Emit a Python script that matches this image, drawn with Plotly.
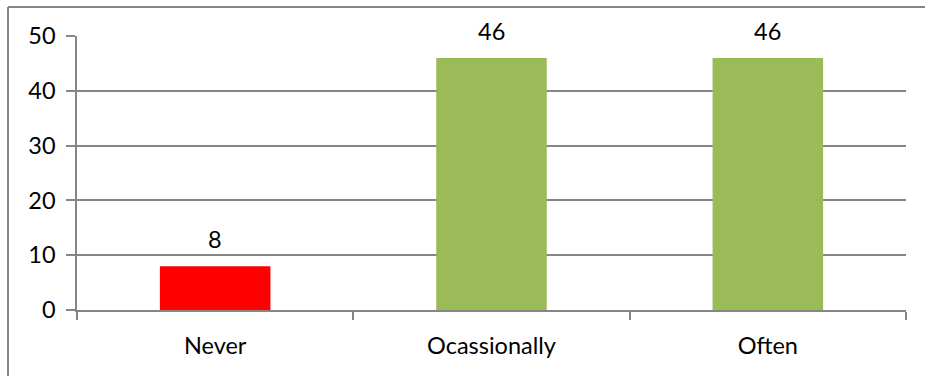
import plotly.graph_objects as go

categories = ["Never", "Ocassionally", "Often"]
counts = [8, 46, 46]
bar_colors = ["#FF0000", "#9BBB59", "#9BBB59"]
y_ticks = [0, 10, 20, 30, 40, 50]

FONT = "Lato"
FONT_SIZE = 23.5
GRID = "#868686"

fig = go.Figure()
fig.add_trace(go.Bar(
    x=categories, y=counts, marker=dict(color=bar_colors, line=dict(width=0)),
    width=0.4, showlegend=False, hoverinfo="skip",
))

# value labels above each bar
for c, v in zip(categories, counts):
    fig.add_annotation(x=c, y=v, text=str(v), showarrow=False,
                       yanchor="bottom", yshift=11,
                       font=dict(family=FONT, size=FONT_SIZE, color="black"))

# chart frame: top and left edges
frame = dict(type="line", xref="paper", yref="paper",
             line=dict(color=GRID, width=2), layer="below")
fig.add_shape(x0=-0.0832, x1=1.2, y0=1.1058, y1=1.1058, **frame)
fig.add_shape(x0=-0.0832, x1=-0.0832, y0=-0.35, y1=1.1058, **frame)

fig.update_layout(
    width=925, height=376,
    margin=dict(l=77, r=19, t=36, b=66),
    paper_bgcolor="white", plot_bgcolor="white",
    font=dict(family=FONT, size=FONT_SIZE, color="black"),
    bargap=0.6,
    xaxis=dict(
        type="category", tickson="boundaries", ticks="outside", ticklen=8,
        tickcolor=GRID, tickwidth=1.5, showline=True, linecolor=GRID, linewidth=1.5,
        showgrid=False, ticklabelstandoff=14, range=[-0.5, 2.5],
    ),
    yaxis=dict(
        range=[0, 50], tickvals=y_ticks, ticks="outside", ticklen=9,
        tickcolor=GRID, tickwidth=1.5, showline=True, linecolor=GRID, linewidth=1.5,
        showgrid=True, gridcolor=GRID, gridwidth=1.5, zeroline=False,
        ticklabelstandoff=6,
    ),
)

fig.write_html("out.html")
